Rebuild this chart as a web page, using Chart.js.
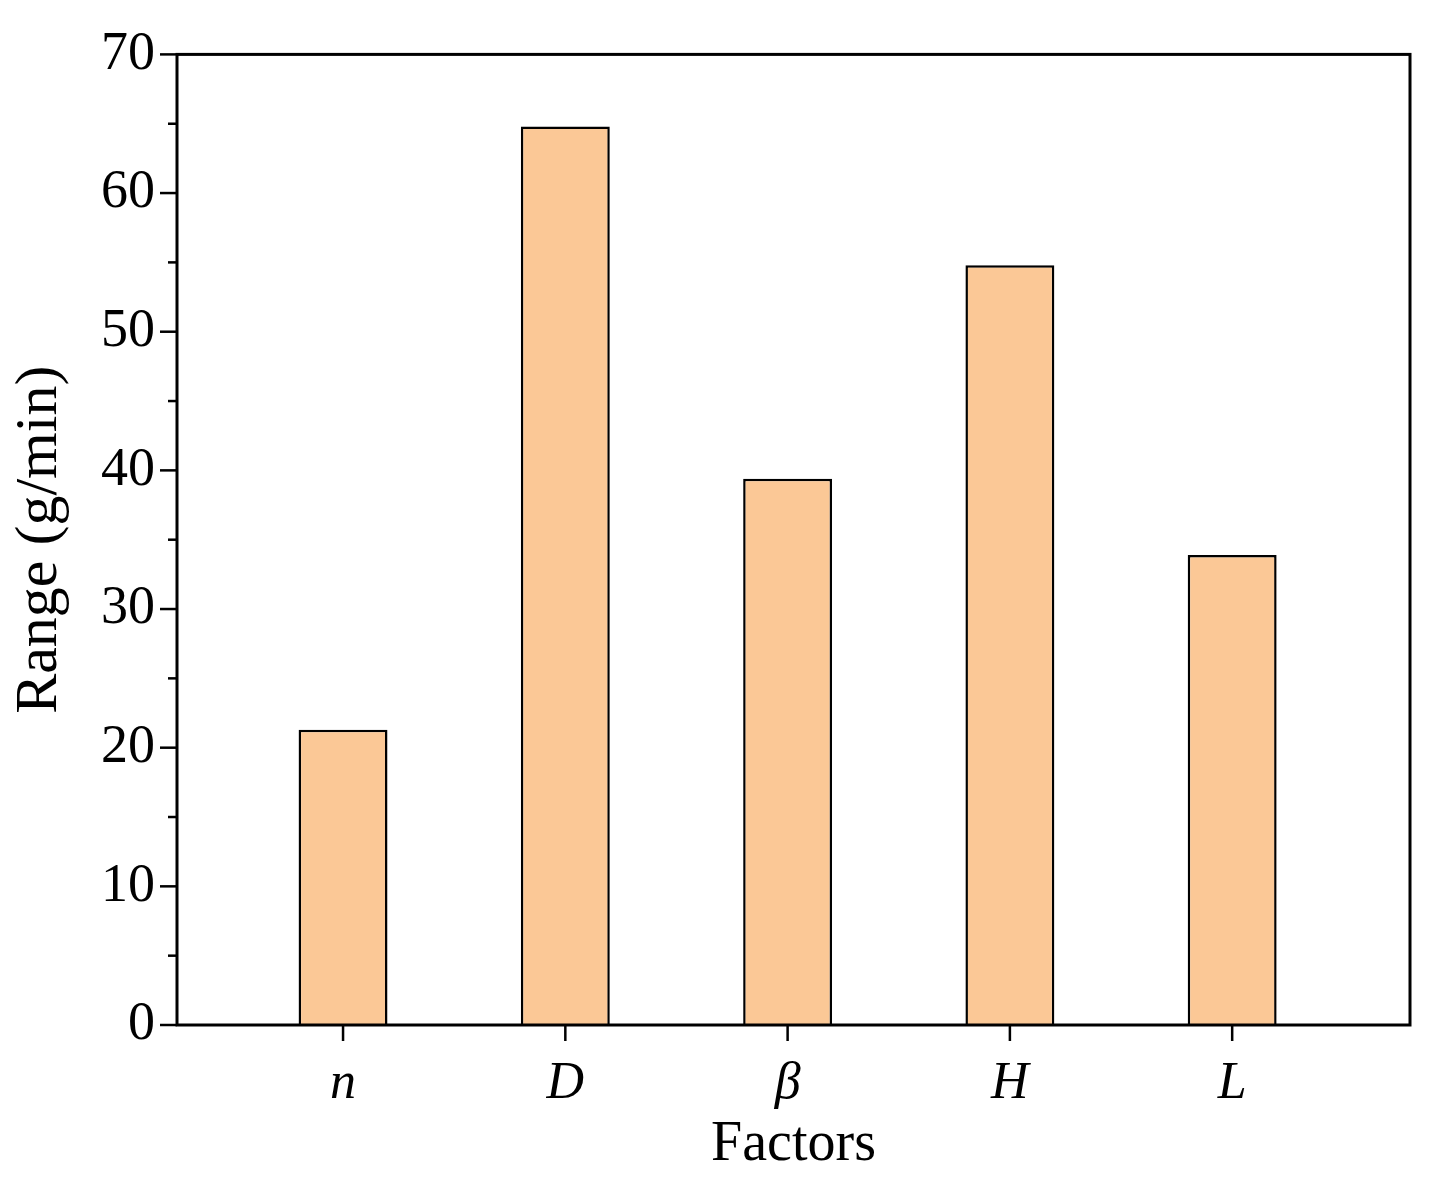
<!DOCTYPE html>
<html>
<head>
<meta charset="utf-8">
<script src="https://cdn.jsdelivr.net/npm/chart.js@4"></script>
<style>
  html, body { margin: 0; padding: 0; background: #fff; }
  #c { display: block; }
</style>
</head>
<body>
<canvas id="c" width="1438" height="1183"></canvas>
<script>
// Range of each factor (g/min)
var factors = ['n', 'D', 'β', 'H', 'L'];
var ranges = [21.3, 64.8, 39.4, 54.8, 33.9];
var yTicks = [0, 10, 20, 30, 40, 50, 60, 70];

var FONT = '"Liberation Serif", "DejaVu Serif", serif';
var BAR_FILL = '#fbc896';

// frame + outward ticks (major/minor) drawn from the chart's own scales
var framePlugin = {
  id: 'frame',
  afterDraw: function (chart) {
    var ctx = chart.ctx, a = chart.chartArea;
    var xs = chart.scales.x, ys = chart.scales.y;
    ctx.save();
    ctx.strokeStyle = '#000';
    ctx.lineWidth = 3;
    ctx.strokeRect(a.left, a.top, a.right - a.left, a.bottom - a.top);
    ctx.lineWidth = 2.5;
    for (var v = 0; v <= 70; v += 5) {
      var py = ys.getPixelForValue(v);
      var len = (v % 10 === 0) ? 17 : 9;
      ctx.beginPath();
      ctx.moveTo(a.left - len, py);
      ctx.lineTo(a.left, py);
      ctx.stroke();
    }
    factors.forEach(function (f, i) {
      var px = xs.getPixelForValue(i + 1);
      ctx.beginPath();
      ctx.moveTo(px, a.bottom);
      ctx.lineTo(px, a.bottom + 16);
      ctx.stroke();
    });
    ctx.restore();
  }
};

new Chart(document.getElementById('c'), {
  type: 'bar',
  data: {
    datasets: [{
      data: ranges.map(function (r, i) { return { x: i + 1, y: r }; }),
      backgroundColor: BAR_FILL,
      borderColor: '#000',
      borderWidth: 2.5,
      borderSkipped: 'bottom',
      barPercentage: 0.4,
      categoryPercentage: 1
    }]
  },
  options: {
    responsive: false,
    animation: false,
    devicePixelRatio: 1,
    layout: { padding: { top: 16, right: 28, left: 0, bottom: 0 } },
    plugins: { legend: { display: false }, tooltip: { enabled: false } },
    scales: {
      x: {
        type: 'linear',
        offset: false,
        min: 0.253,
        max: 5.8,
        afterBuildTicks: function (scale) {
          scale.ticks = factors.map(function (f, i) { return { value: i + 1 }; });
        },
        afterFit: function (scale) { scale.height = 158; },
        grid: { display: false, drawTicks: false },
        border: { display: false },
        ticks: {
          padding: 28,
          color: '#000',
          font: { family: FONT, size: 52, style: 'italic' },
          callback: function (v) { return factors[v - 1]; }
        },
        title: {
          display: true, text: 'Factors', color: '#000', padding: { top: -8 },
          font: { family: FONT, size: 56 }
        }
      },
      y: {
        min: 0,
        max: 70,
        afterBuildTicks: function (scale) {
          scale.ticks = yTicks.map(function (v) { return { value: v }; });
        },
        afterFit: function (scale) { scale.width = 177; },
        grid: { display: false, drawTicks: false },
        border: { display: false },
        ticks: {
          padding: 22,
          color: '#000',
          font: { family: FONT, size: 54 }
        },
        title: {
          display: true, text: 'Range (g/min)', color: '#000', padding: { bottom: 0 },
          font: { family: FONT, size: 60 }
        }
      }
    }
  },
  plugins: [framePlugin]
});
</script>
</body>
</html>
